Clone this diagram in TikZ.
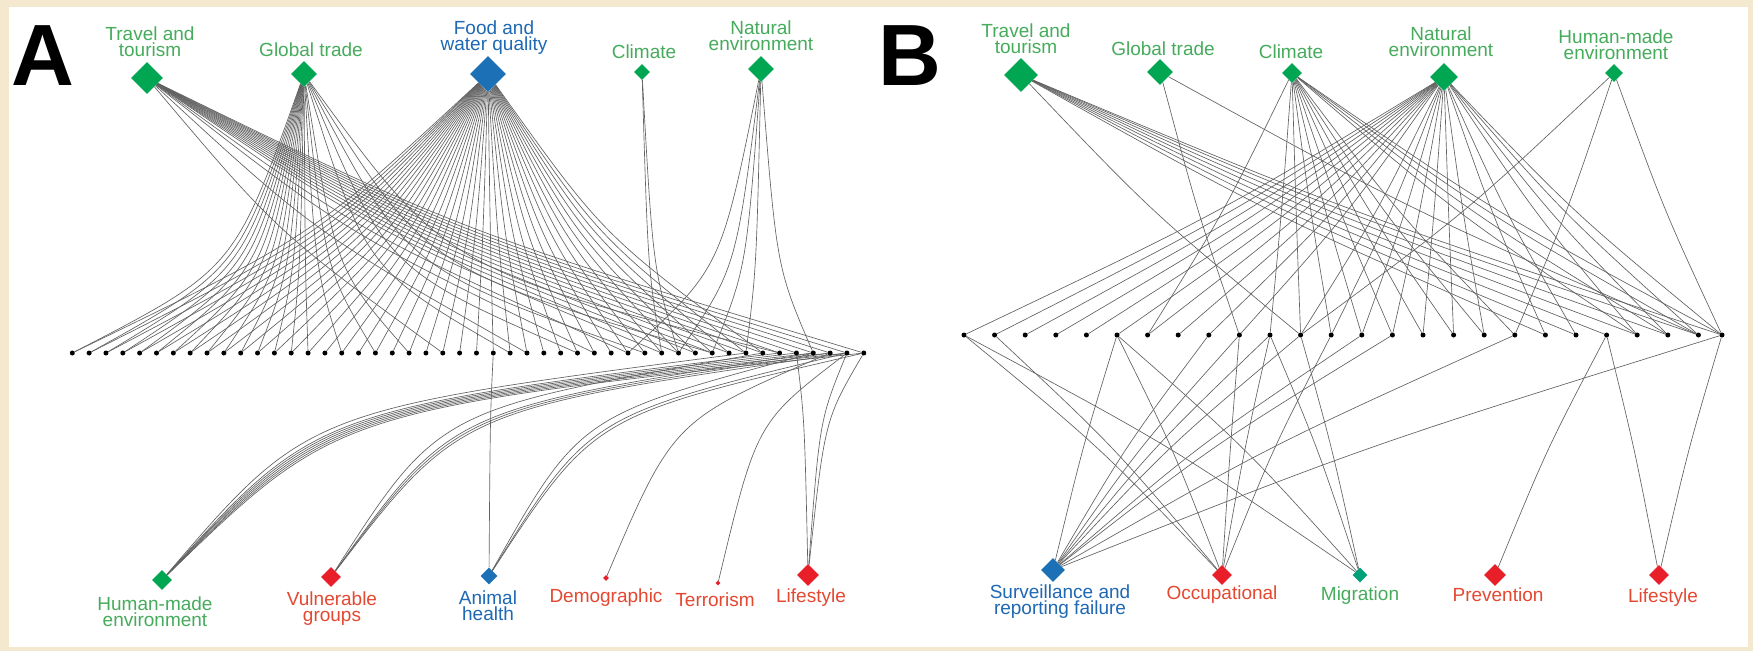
\documentclass[tikz,border=0pt]{standalone}
\usepackage{fontspec}
\setmainfont{Liberation Sans}
\usetikzlibrary{shapes.geometric,calc}
\definecolor{cream}{RGB}{244,233,207}
\definecolor{gdia}{RGB}{0,166,81}
\definecolor{bdia}{RGB}{28,112,182}
\definecolor{rdia}{RGB}{232,30,40}
\definecolor{tdia}{RGB}{0,160,120}
\definecolor{gtxt}{RGB}{70,172,92}
\definecolor{btxt}{RGB}{30,104,180}
\definecolor{rtxt}{RGB}{228,72,48}
\pgfdeclarelayer{bg}\pgfdeclarelayer{edges}\pgfsetlayers{bg,edges,main}
\newcommand\lab{\fontsize{19}{16}\selectfont}
\newcommand\ce[3]{\draw[edge] let \p1=(#1), \p2=(#2) in (#1) .. controls ({\x1+#3*(\x2-\x1)},{\y1+(1-#3)*(\y2-\y1)}) .. (#2);}
\tikzset{
  dot/.style={circle, fill=black, inner sep=0pt, minimum size=5pt},
  dia/.style={diamond, inner sep=0pt, minimum width=#1, minimum height=#1},
  edge/.style={draw=black!62, line width=0.65pt},
  lbl/.style={align=center, inner sep=0pt, font=\lab},
  panel/.style={font=\fontsize{87}{87}\selectfont\bfseries, inner sep=0pt}
}
\begin{document}
\begin{tikzpicture}[x=1pt,y=-1pt]
\useasboundingbox (0,0) rectangle (1753,651);
\begin{pgfonlayer}{bg}
\fill[cream] (0,0) rectangle (1753,651);
\fill[white] (9,7) rectangle (1748,647);
\end{pgfonlayer}

% ---------- Panel A ----------
\node[panel] (PA) at (43,56) {A};
\node[dia=32pt, fill=gdia] (T) at (147,78) {};
\node[dia=26pt, fill=gdia] (G) at (304,74) {};
\node[dia=36pt, fill=bdia] (F) at (488,74) {};
\node[dia=16pt, fill=gdia] (C) at (642,72) {};
\node[dia=26pt, fill=gdia] (N) at (761,69) {};
\node[dia=20pt, fill=gdia] (H) at (162,580) {};
\node[dia=20pt, fill=rdia] (V) at (331,577) {};
\node[dia=17pt, fill=bdia] (AH) at (489,576) {};
\node[dia=6pt, fill=rdia] (D) at (606,578) {};
\node[dia=5pt, fill=rdia] (Te) at (718,583) {};
\node[dia=22pt, fill=rdia] (L) at (808,575) {};

\node[lbl, text=gtxt] (lT) at (150,42) {Travel and\\tourism};
\node[lbl, text=gtxt] (lG) at (311,50) {Global trade};
\node[lbl, text=btxt] (lF) at (494,38) {Food and\\water quality};
\node[lbl, text=gtxt] (lC) at (644,52) {Climate};
\node[lbl, text=gtxt] (lN) at (761,36) {Natural\\environment};
\node[lbl, text=gtxt] (lH) at (155,612) {Human-made\\environment};
\node[lbl, text=rtxt] (lV) at (332,609) {Vulnerable\\groups};
\node[lbl, text=btxt] (lAH) at (488,606) {Animal\\health};
\node[lbl, text=rtxt] (lD) at (606,598) {Demographic};
\node[lbl, text=rtxt] (lTe) at (715,600) {Terrorism};
\node[lbl, text=rtxt] (lL) at (811,598) {Lifestyle};

\foreach \i in {0,...,47} \node[dot] (a\i) at ({72.3+16.84*\i},353) {};

\begin{pgfonlayer}{edges}
\foreach \i in {0,...,41} {\ce{F}{a\i}{0.42}}
\foreach \i in {0,1,2,3,4,5,6,7,8,9,10,11,12,13,14,16,18,20,26,30,34,38,42} {\ce{G}{a\i}{0.3}}
\foreach \i in {22,27,31,33,35,36,37,38,39,40,41,42,43,44,45,46,47} {\ce{T}{a\i}{0.44}}
\foreach \i in {35,36} {\ce{C}{a\i}{0.3}}
\foreach \i in {33,36,38,40,44} {\ce{N}{a\i}{0.3}}
\foreach \i in {40,42,43,44,45,46,47} {\ce{H}{a\i}{0.25}}
\foreach \i in {41,44,45,46} {\ce{V}{a\i}{0.25}}
\foreach \i in {25,44,46,47} {\ce{AH}{a\i}{0.28}}
\foreach \i in {45} {\ce{D}{a\i}{0.3}}
\foreach \i in {46} {\ce{Te}{a\i}{0.3}}
\foreach \i in {43,46,47} {\ce{L}{a\i}{0.3}}
\end{pgfonlayer}

% ---------- Panel B ----------
\node[panel] (PB) at (910,56) {B};
\node[dia=34pt, fill=gdia] (TB) at (1021,75) {};
\node[dia=26pt, fill=gdia] (GB) at (1160,72) {};
\node[dia=20pt, fill=gdia] (CB) at (1292,73) {};
\node[dia=28pt, fill=gdia] (NB) at (1444,77) {};
\node[dia=18pt, fill=gdia] (HB) at (1614,73) {};
\node[dia=24pt, fill=bdia] (SB) at (1053,570) {};
\node[dia=20pt, fill=rdia] (OB) at (1222,575) {};
\node[dia=15pt, fill=tdia] (MB) at (1360,575) {};
\node[dia=22pt, fill=rdia] (PVB) at (1495,575) {};
\node[dia=20pt, fill=rdia] (LB) at (1659,575) {};

\node[lbl, text=gtxt] (lTB) at (1026,39) {Travel and\\tourism};
\node[lbl, text=gtxt] (lGB) at (1163,49) {Global trade};
\node[lbl, text=gtxt] (lCB) at (1291,52) {Climate};
\node[lbl, text=gtxt] (lNB) at (1441,42) {Natural\\environment};
\node[lbl, text=gtxt] (lHB) at (1616,45) {Human-made\\environment};
\node[lbl, text=btxt] (lSB) at (1060,602) {Surveillance and\\reporting failure};
\node[lbl, text=rtxt] (lOB) at (1222,595) {Occupational};
\node[lbl, text=gtxt] (lMB) at (1360,596) {Migration};
\node[lbl, text=rtxt] (lPVB) at (1498,595) {Prevention};
\node[lbl, text=rtxt] (lLB) at (1663,598) {Lifestyle};

\foreach \i in {0,...,24} \node[dot] (b\i) at ({964+30.6*\i},335) {};
\node[dot] (b25) at (1722,335) {};

\begin{pgfonlayer}{edges}
\foreach \i in {11,19,20,21,22,23,24,25} {\ce{TB}{b\i}{0.47}}
\foreach \i in {9,24} {\ce{GB}{b\i}{0.47}}
\foreach \i in {6,10,11,12,13,14,15,16,17,18,22,23,24,25} {\ce{CB}{b\i}{0.47}}
\foreach \i in {0,1,2,3,4,5,6,7,8,9,11,12,13,14,15,16,17,19,20,22,23,24,25} {\ce{NB}{b\i}{0.47}}
\foreach \i in {11,18,25} {\ce{HB}{b\i}{0.47}}
\foreach \i in {5,8,9,10,11,13,14,18,25} {\ce{SB}{b\i}{0.47}}
\foreach \i in {0,1,5,9,10,12} {\ce{OB}{b\i}{0.47}}
\foreach \i in {0,5,10,11} {\ce{MB}{b\i}{0.47}}
\foreach \i in {21} {\ce{PVB}{b\i}{0.47}}
\foreach \i in {21,25} {\ce{LB}{b\i}{0.47}}
\end{pgfonlayer}
\end{tikzpicture}
\end{document}
